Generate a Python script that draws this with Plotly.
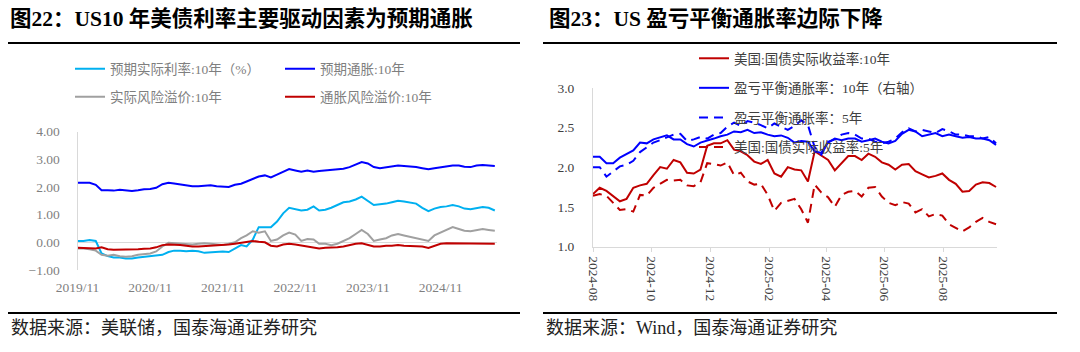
import pandas as pd
import plotly.graph_objects as go

# ---------------- data: left chart (monthly, from 2019-11) ----------------
left_start = "2019-11-01"
left_periods = 70
real_rate_10y = [0.05, 0.05, 0.08, 0.05, -0.40, -0.50, -0.55, -0.55, -0.58, -0.58,
                 -0.55, -0.52, -0.50, -0.48, -0.45, -0.35, -0.30, -0.30, -0.32, -0.30,
                 -0.32, -0.38, -0.36, -0.33, -0.33, -0.35, -0.22, -0.10, -0.15, 0.10,
                 0.55, 0.55, 0.55, 0.75, 1.05, 1.25, 1.20, 1.15, 1.18, 1.30,
                 1.15, 1.18, 1.25, 1.35, 1.45, 1.48, 1.55, 1.65, 1.50, 1.35,
                 1.38, 1.40, 1.45, 1.50, 1.48, 1.45, 1.40, 1.25, 1.13, 1.22,
                 1.28, 1.30, 1.35, 1.30, 1.22, 1.20, 1.25, 1.28, 1.25, 1.15]
exp_infl_10y = [2.15, 2.16, 2.15, 2.08, 1.88, 1.88, 1.87, 1.90, 1.88, 1.86,
                1.88, 1.92, 1.93, 1.97, 2.10, 2.15, 2.13, 2.10, 2.08, 2.03,
                2.03, 2.04, 2.06, 2.03, 2.02, 2.00, 2.08, 2.12, 2.20, 2.30,
                2.38, 2.42, 2.35, 2.45, 2.55, 2.65, 2.60, 2.55, 2.60, 2.55,
                2.58, 2.60, 2.62, 2.65, 2.66, 2.72, 2.80, 2.90, 2.85, 2.72,
                2.68, 2.72, 2.74, 2.78, 2.76, 2.75, 2.72, 2.68, 2.64, 2.68,
                2.72, 2.75, 2.78, 2.78, 2.73, 2.72, 2.78, 2.80, 2.78, 2.76]
real_risk_prem = [-0.22, -0.22, -0.25, -0.30, -0.45, -0.48, -0.45, -0.50, -0.52, -0.50,
                  -0.45, -0.42, -0.40, -0.33, -0.15, -0.02, -0.03, -0.05, -0.07, -0.08,
                  -0.05, -0.03, -0.05, -0.08, -0.10, -0.05, 0.00, 0.15, 0.25, 0.40,
                  0.35, 0.40, 0.05, 0.10, 0.25, 0.35, 0.28, 0.05, 0.12, 0.10,
                  -0.05, -0.05, -0.10, -0.05, 0.05, 0.15, 0.30, 0.45, 0.30, 0.05,
                  0.10, 0.15, 0.25, 0.30, 0.25, 0.20, 0.15, 0.10, 0.05, 0.25,
                  0.35, 0.45, 0.55, 0.48, 0.42, 0.40, 0.45, 0.48, 0.45, 0.42]
infl_risk_prem = [-0.20, -0.20, -0.22, -0.22, -0.18, -0.25, -0.27, -0.27, -0.27, -0.26,
                  -0.25, -0.23, -0.22, -0.18, -0.10, -0.08, -0.08, -0.10, -0.12, -0.15,
                  -0.15, -0.14, -0.12, -0.12, -0.10, -0.08, -0.05, -0.02, 0.02, 0.05,
                  0.02, 0.00, -0.12, -0.15, -0.08, -0.05, -0.08, -0.12, -0.15, -0.20,
                  -0.22, -0.20, -0.20, -0.18, -0.15, -0.10, -0.05, -0.03, -0.10, -0.15,
                  -0.15, -0.12, -0.12, -0.10, -0.12, -0.13, -0.15, -0.15, -0.20, -0.12,
                  -0.05, -0.03, -0.03, -0.05, -0.05, -0.05, -0.05, -0.05, -0.04, -0.05]
left_names = ["预期实际利率:10年（%）", "预期通胀:10年", "实际风险溢价:10年", "通胀风险溢价:10年"]
left_yticks = [-1, 0, 1, 2, 3, 4]

# ---------------- data: right chart (weekly, from 2024-08-01) ----------------
right_start = "2024-08-01"
right_periods = 61
us_real_10y = [1.66, 1.74, 1.70, 1.63, 1.57, 1.60, 1.74, 1.77, 1.79, 1.90,
               2.00, 1.98, 2.09, 2.06, 1.93, 1.92, 1.97, 2.27, 2.30, 2.30,
               2.34, 2.22, 2.20, 2.15, 2.07, 2.04, 2.09, 1.92, 1.88, 2.00,
               1.97, 1.96, 1.82, 2.20, 2.14, 2.09, 1.96, 2.05, 2.14, 2.14,
               2.09, 2.17, 2.13, 2.06, 2.03, 1.97, 2.03, 2.04, 1.95, 1.91,
               1.87, 1.89, 1.92, 1.84, 1.79, 1.69, 1.70, 1.78, 1.81, 1.80,
               1.75]
bei_10y = [2.13, 2.13, 2.05, 2.05, 2.12, 2.17, 2.21, 2.31, 2.30, 2.35,
           2.38, 2.40, 2.35, 2.35, 2.29, 2.26, 2.31, 2.34, 2.36, 2.39,
           2.41, 2.45, 2.44, 2.47, 2.43, 2.44, 2.41, 2.39, 2.40, 2.37,
           2.31, 2.33, 2.32, 2.20, 2.18, 2.31, 2.36, 2.34, 2.36, 2.36,
           2.32, 2.34, 2.36, 2.32, 2.30, 2.33, 2.42, 2.47, 2.45, 2.39,
           2.41, 2.43, 2.39, 2.41, 2.39, 2.37, 2.38, 2.36, 2.36, 2.34,
           2.28]
bei_5y = [2.00, 2.00, 1.88, 1.95, 2.01, 2.03, 2.08, 2.19, 2.25, 2.31,
          2.34, 2.37, 2.41, 2.42, 2.33, 2.35, 2.38, 2.36, 2.41, 2.43,
          2.51, 2.56, 2.52, 2.58, 2.56, 2.53, 2.49, 2.55, 2.51, 2.47,
          2.52, 2.59, 2.53, 2.25, 2.16, 2.32, 2.35, 2.41, 2.43, 2.41,
          2.36, 2.36, 2.32, 2.30, 2.32, 2.36, 2.44, 2.49, 2.45, 2.47,
          2.45, 2.43, 2.48, 2.45, 2.41, 2.41, 2.39, 2.39, 2.36, 2.38,
          2.30]
us_real_5y = [1.64, 1.66, 1.64, 1.55, 1.46, 1.47, 1.44, 1.65, 1.64, 1.74,
              1.79, 1.84, 1.83, 1.84, 1.77, 1.76, 1.81, 2.05, 2.04, 2.02,
              2.06, 1.90, 1.93, 1.82, 1.78, 1.79, 1.65, 1.45, 1.55, 1.58,
              1.60, 1.47, 1.30, 1.78, 1.68, 1.62, 1.50, 1.65, 1.69, 1.70,
              1.63, 1.74, 1.75, 1.63, 1.55, 1.52, 1.56, 1.54, 1.43, 1.47,
              1.38, 1.41, 1.39, 1.28, 1.24, 1.19, 1.24, 1.31, 1.36, 1.31,
              1.28]
right_names = ["美国:国债实际收益率:10年", "盈亏平衡通胀率：10年（右轴）",
               "盈亏平衡通胀率：5年", "美国:国债实际收益率:5年"]
right_yticks = [1.0, 1.5, 2.0, 2.5, 3.0]

titles = ["图22：US10 年美债利率主要驱动因素为预期通胀", "图23：US 盈亏平衡通胀率边际下降"]
sources = ["数据来源：美联储，国泰海通证券研究", "数据来源：Wind，国泰海通证券研究"]

# ---------------- figure ----------------
W, H = 1080, 352
def px_x(p):
    return p / W
def px_y(p):
    return 1 - p / H

FONT = "Liberation Serif, Noto Sans CJK SC, serif"
left_dates = pd.date_range(left_start, periods=left_periods, freq="MS")
right_dates = pd.date_range(right_start, periods=right_periods, freq="7D")

fig = go.Figure()

left_series = [real_rate_10y, exp_infl_10y, real_risk_prem, infl_risk_prem]
left_colors = ["#00b0f0", "#0000ff", "#a0a0a0", "#c00000"]
left_legends = ["legend", "legend", "legend2", "legend2"]
for vals, name, col, lg in zip(left_series, left_names, left_colors, left_legends):
    fig.add_trace(go.Scatter(x=left_dates, y=vals, name=name, mode="lines",
                             line=dict(color=col, width=2), xaxis="x", yaxis="y",
                             legend=lg, hoverinfo="skip"))

right_series = [us_real_10y, bei_10y, bei_5y, us_real_5y]
right_colors = ["#c00000", "#0000ff", "#0000ff", "#c00000"]
right_dash = ["solid", "solid", "9px,6px", "9px,6px"]
for i, (vals, name, col, dsh) in enumerate(zip(right_series, right_names, right_colors, right_dash)):
    fig.add_trace(go.Scatter(x=right_dates, y=vals, name=name, mode="lines",
                             line=dict(color=col, width=2, dash=dsh), xaxis="x2", yaxis="y2",
                             legend="legend3", legendgroup=f"g{i}", hoverinfo="skip"))

axis_gray = "#d9d9d9"
fig.update_layout(
    width=W, height=H,
    margin=dict(l=0, r=0, t=0, b=0, pad=0, autoexpand=False),
    paper_bgcolor="white", plot_bgcolor="white",
    font=dict(family=FONT, size=13.5, color="#595959"),
    xaxis=dict(domain=[px_x(77.5), px_x(497)], range=["2019-11-01", "2025-08-12"],
               tick0="2019-11-01", dtick="M12", tickformat="%Y/%m",
               showgrid=False, zeroline=False, showline=False, ticks="",
               ticklabelstandoff=7, tickfont=dict(size=13.5, color="#7f7f7f")),
    yaxis=dict(domain=[px_y(270), px_y(131.7)], range=[-1, 4], tickvals=left_yticks,
               tickformat=".2f", showgrid=False, zeroline=True, zerolinecolor=axis_gray,
               zerolinewidth=1, showline=True, linecolor=axis_gray, linewidth=1, ticks="",
               ticklabelstandoff=14, tickfont=dict(size=13.5, color="#7f7f7f")),
    xaxis2=dict(domain=[px_x(593), px_x(997)], range=["2024-08-01", "2025-09-26"],
                tick0="2024-08-01", dtick="M2", tickformat="%Y-%m", tickangle=90,
                showgrid=False, zeroline=False, showline=True, linecolor=axis_gray,
                ticks="outside", ticklen=4, tickcolor=axis_gray, ticklabelstandoff=2,
                anchor="y2", tickfont=dict(size=13.5, color="#404040")),
    yaxis2=dict(domain=[px_y(246.5), px_y(87.8)], range=[1, 3], tickvals=right_yticks,
                tickformat=".1f", showgrid=False, zeroline=False, showline=True,
                linecolor=axis_gray, ticks="", ticklabelstandoff=15, anchor="x2",
                tickfont=dict(size=13.5, color="#404040")),
    legend=dict(orientation="h", x=px_x(70), xanchor="left", y=px_y(69), yanchor="middle",
                entrywidth=165, entrywidthmode="pixels", bgcolor="rgba(0,0,0,0)",
                font=dict(size=13.5, color="#7f7f7f", family=FONT)),
    legend2=dict(orientation="h", x=px_x(70), xanchor="left", y=px_y(97), yanchor="middle",
                 entrywidth=165, entrywidthmode="pixels", bgcolor="rgba(0,0,0,0)",
                 font=dict(size=13.5, color="#7f7f7f", family=FONT)),
    legend3=dict(orientation="v", x=px_x(694), xanchor="left", y=px_y(43), yanchor="top",
                 tracegroupgap=9, bgcolor="rgba(0,0,0,0)",
                 font=dict(size=13.5, color="#404040", family=FONT)),
    showlegend=True,
)

# titles, rules and sources
title_x = [8, 547]
rule_x = [(8, 520), (543, 1057)]
for tx, t in zip(title_x, titles):
    fig.add_annotation(text=f"<b>{t}</b>", xref="paper", yref="paper", x=px_x(tx), y=px_y(19),
                       xanchor="left", yanchor="middle", showarrow=False,
                       font=dict(size=21.5, color="#000000", family=FONT))
for (x0, x1) in rule_x:
    for yy in (43, 313):
        fig.add_shape(type="line", xref="paper", yref="paper", x0=px_x(x0), x1=px_x(x1),
                      y0=px_y(yy), y1=px_y(yy), line=dict(color="#000000", width=2))
for (x0, _), s in zip(rule_x, sources):
    fig.add_annotation(text=s, xref="paper", yref="paper", x=px_x(x0 + 1), y=px_y(328),
                       xanchor="left", yanchor="middle", showarrow=False,
                       font=dict(size=18, color="#222222", family=FONT))

fig.write_html("out.html")
